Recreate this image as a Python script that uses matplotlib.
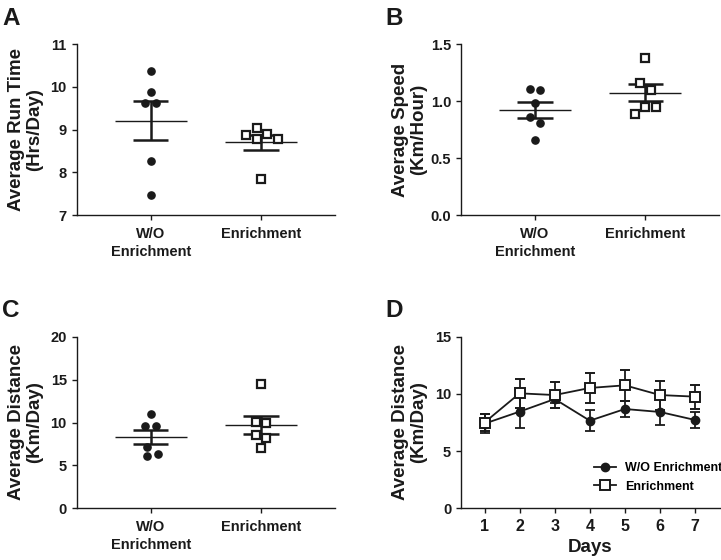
import numpy as np
import matplotlib
matplotlib.use("Agg")
import matplotlib.pyplot as plt

plt.rcParams['font.family'] = ['Liberation Sans', 'DejaVu Sans']
plt.rcParams['font.weight'] = 'bold'
plt.rcParams['axes.labelweight'] = 'bold'

# group labels
groups = ['W/O\nEnrichment', 'Enrichment']

# panel A: average run time (hrs/day), one value per animal
run_wo = [10.38, 9.87, 9.63, 9.63, 8.27, 7.48]
run_enr = [9.05, 8.91, 8.88, 8.77, 8.77, 7.85]

# panel B: average speed (km/hour)
speed_wo = [1.11, 1.10, 0.98, 0.86, 0.81, 0.66]
speed_enr = [1.38, 1.16, 1.10, 0.95, 0.95, 0.89]

# panel C: average distance (km/day)
dist_wo = [10.99, 9.63, 9.63, 7.18, 6.37, 6.06]
dist_enr = [14.45, 10.10, 9.98, 8.54, 8.23, 7.07]

# panel D: daily distance, mean and SEM
days = [1, 2, 3, 4, 5, 6, 7]
daily_wo_mean = [7.40, 8.45, 9.55, 7.66, 8.68, 8.42, 7.72]
daily_wo_sem = [0.80, 1.40, 0.33, 0.94, 0.73, 1.17, 0.68]
daily_enr_mean = [7.50, 10.05, 9.90, 10.52, 10.75, 9.90, 9.76]
daily_enr_sem = [0.75, 1.27, 1.14, 1.33, 1.35, 1.27, 1.06]

INK = '#1a1a1a'
W, H = 721, 560


def add_axes(fig, left, top, right, bottom):
    # pixel box -> figure fraction
    return fig.add_axes([left / W, (H - bottom) / H, (right - left) / W, (bottom - top) / H])


def style_axes(ax):
    ax.spines['top'].set_visible(False)
    ax.spines['right'].set_visible(False)
    for s in ('left', 'bottom'):
        ax.spines[s].set_linewidth(1.0)
        ax.spines[s].set_color(INK)
    ax.tick_params(direction='out', length=3.6, width=1.0, colors=INK, labelsize=10.5)


def swarm_offsets(ax, vals, pos, diam=9.5, step=5.2):
    # spread overlapping points sideways (in pixels), then centre each cluster
    bb = ax.get_window_extent()
    x0, x1 = ax.get_xlim()
    y0, y1 = ax.get_ylim()
    px_x = bb.width / (x1 - x0)
    px_y = bb.height / (y1 - y0)
    order = np.argsort(vals)[::-1]
    ys = np.array(vals) * px_y
    placed = []
    offs = np.zeros(len(vals))
    for i in order:
        k = 0
        while True:
            cands = [0.0] if k == 0 else [k * step, -k * step]
            ok = None
            for c in cands:
                if all(np.hypot(c - offs[j], ys[i] - ys[j]) >= diam for j in placed):
                    ok = c
                    break
            if ok is not None:
                offs[i] = ok
                break
            k += 1
        placed.append(i)
    # centre clusters
    cluster = [[order[0]]]
    for a, b in zip(order[:-1], order[1:]):
        if ys[a] - ys[b] < diam:
            cluster[-1].append(b)
        else:
            cluster.append([b])
    for c in cluster:
        offs[c] -= offs[c].mean()
    return pos + offs / px_x


def scatter_panel(ax, wo, enr, ylim, yticks, fmt, ylabel):
    style_axes(ax)
    ax.set_xlim(-0.67, 1.67)
    ax.set_ylim(*ylim)
    ax.set_yticks(yticks)
    ax.set_yticklabels([fmt.format(t) for t in yticks])
    ax.set_xticks([0, 1])
    ax.set_xticklabels(groups, linespacing=1.3)
    ax.tick_params(axis='x', pad=5)

    for i, (vals, mk) in enumerate([(wo, 'o'), (enr, 's')]):
        xs = swarm_offsets(ax, vals, i)
        if mk == 'o':
            ax.plot(xs, vals, 'o', ms=5.2, color=INK, mec=INK, ls='none', zorder=5)
        else:
            ax.plot(xs, vals, 's', ms=5.4, mfc='white', mec=INK, mew=1.6, ls='none', zorder=5)
        m = np.mean(vals)
        sem = np.std(vals, ddof=1) / np.sqrt(len(vals))
        ax.hlines(m, i - 0.325, i + 0.325, color=INK, lw=1.0, zorder=4)
        ax.vlines(i, m - sem, m + sem, color=INK, lw=1.8, zorder=4)
        ax.hlines([m - sem, m + sem], i - 0.16, i + 0.16, color=INK, lw=1.8, zorder=4)

    ax.set_ylabel(ylabel, fontsize=13.5, linespacing=1.1, color=INK)


fig = plt.figure(figsize=(7.21, 5.6), dpi=100)

axA = add_axes(fig, 76.7, 44, 335, 215.3)
axB = add_axes(fig, 461, 44, 719.3, 215.3)
axC = add_axes(fig, 76.7, 336.7, 335, 508.3)
axD = add_axes(fig, 461, 336.7, 720, 508.3)

scatter_panel(axA, run_wo, run_enr, (7, 11), [7, 8, 9, 10, 11], '{:g}',
              'Average Run Time\n(Hrs/Day)')
scatter_panel(axB, speed_wo, speed_enr, (0, 1.5), [0, 0.5, 1.0, 1.5], '{:.1f}',
              'Average Speed\n(Km/Hour)')
scatter_panel(axC, dist_wo, dist_enr, (0, 20), [0, 5, 10, 15, 20], '{:g}',
              'Average Distance\n(Km/Day)')

for ax in (axA, axB, axC):
    ax.yaxis.set_label_coords(-0.13, 0.5)

# panel D
style_axes(axD)
axD.errorbar(days, daily_wo_mean, yerr=daily_wo_sem, fmt='-o', color=INK, ms=6,
             lw=1.3, elinewidth=1.3, capsize=3.5, capthick=1.3, label='W/O Enrichment', zorder=3)
axD.errorbar(days, daily_enr_mean, yerr=daily_enr_sem, fmt='-s', color=INK, ms=6.5,
             mfc='white', mec=INK, mew=1.4, lw=1.3, elinewidth=1.3, capsize=3.5,
             capthick=1.3, label='Enrichment', zorder=4)
axD.set_xlim(0.33, 7.71)
axD.set_ylim(0, 15)
axD.set_xticks(days)
axD.set_yticks([0, 5, 10, 15])
axD.tick_params(axis='x', labelsize=11.5, pad=4)
axD.set_xlabel('Days', fontsize=13.5, color=INK, labelpad=4)
axD.set_ylabel('Average Distance\n(Km/Day)', fontsize=13.5, linespacing=1.1, color=INK)
axD.yaxis.set_label_coords(-0.13, 0.5)
handles, labels = axD.get_legend_handles_labels()
handles = [h[0] for h in handles]
axD.legend(handles, labels, loc='upper left', bbox_to_anchor=(0.515, 0.27), frameon=False,
           fontsize=9, borderpad=0, borderaxespad=0, handlelength=1.7, handletextpad=0.75,
           labelspacing=0.55)

# panel letters
for lbl, (x, y) in zip('ABCD', [(2, 25), (385, 25), (2, 317), (385, 317)]):
    fig.text(x / W, 1 - y / H, lbl, fontsize=17.5, fontweight='bold', color=INK, va='baseline')

fig.savefig('out.png', dpi=100)
